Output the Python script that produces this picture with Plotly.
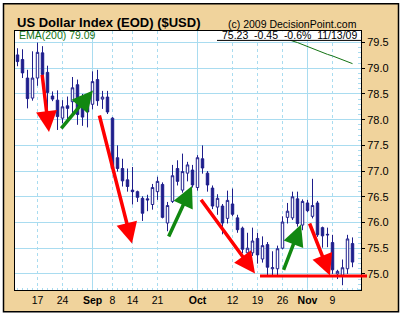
import plotly.graph_objects as go
import pandas as pd

# ---------------- data ----------------
dates = [d.strftime("%Y-%m-%d") for d in pd.bdate_range("2009-08-11", "2009-11-13") if d.strftime("%Y-%m-%d") != "2009-09-07"]

opens = [79.26, 79.17, 78.81, 78.42, 78.81, 79.30, 78.92, 78.46, 78.38, 78.03,
         78.27, 78.35, 78.68, 78.30, 78.30, 78.30, 78.78, 78.40, 78.44, 78.03,
         77.26, 77.05, 76.83, 76.63, 76.60, 76.47, 76.46, 76.35, 76.60, 76.74,
         75.99, 76.41, 77.05, 76.63, 76.96, 77.02, 76.68, 77.24, 76.96, 76.67,
         76.30, 76.32, 76.08, 76.36, 76.09, 75.89, 75.41, 75.41, 75.69, 75.29,
         75.57, 75.10, 75.10, 75.50, 76.10, 76.09, 76.46, 75.95, 76.38, 76.12,
         76.38, 75.90, 75.77, 75.61, 75.00, 74.97, 75.10, 75.59]
closes = [79.13, 78.91, 78.41, 78.81, 79.31, 78.88, 78.53, 78.40, 78.06, 78.25,
          78.22, 78.62, 78.10, 78.05, 78.15, 78.74, 78.37, 78.44, 78.15, 77.05,
          77.05, 76.81, 76.70, 76.60, 76.49, 76.18, 76.44, 76.68, 76.80, 76.10,
          76.33, 76.91, 76.80, 76.99, 77.12, 76.73, 77.26, 77.06, 76.73, 76.32,
          76.47, 75.99, 76.43, 76.16, 75.86, 75.48, 75.50, 75.64, 75.37, 75.55,
          75.13, 75.12, 75.49, 76.01, 76.22, 76.50, 75.98, 76.41, 76.23, 76.33,
          75.76, 75.74, 75.76, 75.08, 75.05, 75.12, 75.68, 75.23]
highs = [79.39, 79.37, 78.97, 79.33, 79.50, 79.43, 79.05, 78.55, 78.57, 78.38,
         78.45, 78.83, 78.78, 78.50, 78.46, 78.94, 78.97, 78.56, 78.56, 78.05,
         77.50, 77.24, 77.05, 77.08, 76.62, 76.51, 76.54, 76.75, 76.89, 76.78,
         76.40, 77.12, 77.21, 77.34, 77.18, 77.12, 77.31, 77.50, 77.00, 76.72,
         76.55, 76.36, 76.62, 76.66, 76.15, 75.92, 75.80, 75.90, 75.80, 75.73,
         75.62, 75.44, 75.55, 76.12, 76.38, 76.60, 76.60, 76.45, 76.44, 76.85,
         76.42, 75.92, 75.90, 75.76, 75.08, 75.28, 75.76, 75.71]
lows = [79.04, 78.81, 78.22, 78.37, 78.66, 78.80, 78.15, 78.36, 77.80, 77.93,
        78.00, 78.08, 77.90, 77.88, 77.85, 78.20, 78.27, 78.21, 78.11, 77.02,
        76.99, 76.70, 76.60, 76.35, 76.40, 76.03, 76.22, 76.25, 76.44, 76.08,
        75.83, 76.38, 76.72, 76.58, 76.80, 76.68, 76.62, 76.95, 76.60, 76.26,
        76.15, 75.77, 75.98, 76.12, 75.80, 75.40, 75.33, 75.35, 75.20, 75.22,
        74.97, 74.97, 74.97, 75.48, 75.98, 76.05, 75.92, 75.85, 76.20, 76.08,
        75.72, 75.51, 75.52, 75.00, 74.90, 74.78, 75.00, 75.13]

ema_dates = dates[50:]
ema_values = [79.72, 79.68, 79.65, 79.61, 79.57, 79.53, 79.50, 79.46, 79.42,
              79.39, 79.35, 79.31, 79.27, 79.24, 79.20, 79.16, 79.13, 79.09]

week_tick_dates = ["2009-08-17", "2009-08-24", "2009-09-08", "2009-09-14", "2009-09-21",
                   "2009-10-12", "2009-10-19", "2009-10-26", "2009-11-09"]
week_tick_labels = ["17", "24", "8", "14", "21", "12", "19", "26", "9"]
month_tick_dates = ["2009-09-01", "2009-10-01", "2009-11-02"]
month_tick_labels = ["Sep", "Oct", "Nov"]
y_ticks = [75.0, 75.5, 76.0, 76.5, 77.0, 77.5, 78.0, 78.5, 79.0, 79.5]

# hand-drawn arrows (tail -> head), in trading-day index / price units
arrow_tail_x = [4.9, 16.3, 36.5, 58.3, 8.5, 30.1, 53.1]
arrow_tail_y = [78.90, 78.11, 76.47, 76.01, 77.80, 75.70, 75.05]
arrow_head_x = [6.3, 22.9, 47.5, 62.5, 15.1, 34.9, 56.7]
arrow_head_y = [77.76, 75.59, 75.01, 74.97, 78.57, 76.71, 75.96]
arrow_color = ["#ff0000", "#ff0000", "#ff0000", "#ff0000", "#118811", "#118811", "#118811"]
support_x = [48.5, 69.9]
support_y = 74.96

# ---------------- layout constants ----------------
W, H = 402, 318
L, R, T, B = 15, 41, 31, 25
PW, PH = W - L - R, H - T - B
XR = [-0.5, 68.7]
YR = [74.687, 79.725]
NAVY = "#1e1e8c"
GRID = "#a9dcf0"
TAN = "#f0d39c"
FONT = "Liberation Sans, Arial, sans-serif"

def px_x(p):
    return (p - L) / PW

def px_y(p):
    return (H - B - p) / PH

xi = list(range(len(dates)))
pos = {d: i for i, d in enumerate(dates)}

fig = go.Figure()
fig.add_trace(go.Candlestick(
    x=xi, open=opens, high=highs, low=lows, close=closes,
    increasing=dict(fillcolor="white", line=dict(color=NAVY, width=1)),
    decreasing=dict(fillcolor=NAVY, line=dict(color=NAVY, width=1)),
    whiskerwidth=0, showlegend=False, hoverinfo="skip",
))
fig.add_trace(go.Scatter(
    x=[pos[d] for d in ema_dates], y=ema_values, mode="lines",
    line=dict(color="#137313", width=1), showlegend=False, hoverinfo="skip",
))

all_tick_vals = [pos[d] for d in week_tick_dates] + [pos[d] for d in month_tick_dates]
all_tick_text = week_tick_labels + ["<b>%s</b>" % m for m in month_tick_labels]

fig.update_layout(
    width=W, height=H,
    margin=dict(l=L, r=R, t=T, b=B, pad=0),
    paper_bgcolor=TAN, plot_bgcolor="white",
    font=dict(family=FONT, size=10.5, color="black"),
    showlegend=False,
    xaxis=dict(
        range=XR, type="linear", rangeslider=dict(visible=False),
        tickmode="array", tickvals=all_tick_vals, ticktext=all_tick_text,
        ticks="", showgrid=True, gridcolor=GRID, griddash="dot", gridwidth=1,
        showline=True, linecolor="black", linewidth=1, mirror=True, zeroline=False,
        tickfont=dict(size=10.5, family=FONT),
        minor=dict(tickmode="linear", tick0=0, dtick=1, ticks="inside", ticklen=2,
                   tickcolor=GRID, showgrid=False),
    ),
    xaxis2=dict(
        range=XR, overlaying="x", type="linear",
        tickmode="array", tickvals=[pos[d] for d in month_tick_dates],
        showticklabels=False, ticks="", showgrid=True, gridcolor=GRID, gridwidth=1,
        zeroline=False, showline=False,
    ),
    yaxis=dict(
        range=YR, side="right", tickmode="array", tickvals=y_ticks, tickformat=".1f",
        ticks="outside", ticklen=3, tickcolor="black",
        showgrid=True, gridcolor=GRID, gridwidth=1,
        showline=True, linecolor="black", linewidth=1, mirror=True, zeroline=False,
        tickfont=dict(size=11, family=FONT),
        minor=dict(tickmode="linear", tick0=0, dtick=0.1, ticks="inside", ticklen=3,
                   tickcolor=GRID, showgrid=False),
    ),
)

# invisible trace to activate xaxis2
fig.add_trace(go.Scatter(x=[XR[0]], y=[YR[0]], xaxis="x2", mode="markers",
                         marker=dict(opacity=0), showlegend=False, hoverinfo="skip"))

shapes = [
    # white outer strip and black frame
    dict(type="rect", xref="paper", yref="paper", layer="below",
         x0=px_x(0), x1=px_x(402), y0=px_y(318), y1=px_y(0),
         fillcolor="rgba(0,0,0,0)", line=dict(color="white", width=7)),
    dict(type="rect", xref="paper", yref="paper", layer="below",
         x0=px_x(3.5), x1=px_x(398.5), y0=px_y(315), y1=px_y(3.5),
         fillcolor="rgba(0,0,0,0)", line=dict(color="black", width=1.5)),
    # info box
    dict(type="rect", xref="paper", yref="paper", layer="above",
         x0=px_x(217), x1=px_x(360.5), y0=px_y(40.5), y1=px_y(31.5),
         fillcolor="white", line=dict(width=0)),
    dict(type="line", xref="paper", yref="paper", layer="above",
         x0=px_x(217), x1=px_x(361), y0=px_y(40.5), y1=px_y(40.5),
         line=dict(color="black", width=1)),
    # red support line
    dict(type="line", xref="paper", yref="y", layer="above",
         x0=(support_x[0] - XR[0]) / (XR[1] - XR[0]), x1=(support_x[1] - XR[0]) / (XR[1] - XR[0]),
         y0=support_y, y1=support_y, line=dict(color="#ff0000", width=3)),
]
fig.update_layout(shapes=shapes)

annotations = [
    dict(text="<b>US Dollar Index (EOD) ($USD)</b>", xref="paper", yref="paper",
         x=px_x(15), y=px_y(22), xanchor="left", yanchor="middle", showarrow=False,
         font=dict(size=13, family=FONT, color="black")),
    dict(text="(c) 2009 DecisionPoint.com", xref="paper", yref="paper",
         x=px_x(358.5), y=px_y(23.5), xanchor="right", yanchor="middle", showarrow=False,
         font=dict(size=10.5, family=FONT, color="black")),
    dict(text="EMA(200) 79.09", xref="paper", yref="paper",
         x=px_x(17), y=px_y(35.5), xanchor="left", yanchor="middle", showarrow=False,
         font=dict(size=10.5, family=FONT, color="#137313")),
    dict(text="75.23\u00a0\u00a0-0.45\u00a0\u00a0-0.6%\u00a0\u00a011/13/09", xref="paper", yref="paper",
         x=px_x(358.5), y=px_y(35.5), xanchor="right", yanchor="middle", showarrow=False,
         font=dict(size=10.5, family=FONT, color="black")),
]
for tx, ty, hx, hy, c in zip(arrow_tail_x, arrow_tail_y, arrow_head_x, arrow_head_y, arrow_color):
    annotations.append(dict(
        x=hx, y=hy, ax=tx, ay=ty, xref="x", yref="y", axref="x", ayref="y",
        text="", showarrow=True, arrowhead=2, arrowsize=1.2, arrowwidth=3.5,
        arrowcolor=c, standoff=0, startstandoff=0,
    ))
fig.update_layout(annotations=annotations)

fig.write_html("out.html")
